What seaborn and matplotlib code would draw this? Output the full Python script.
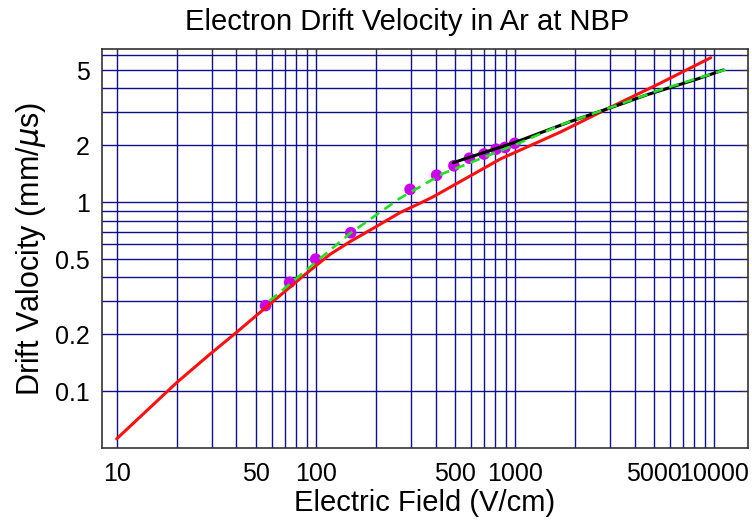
import matplotlib
matplotlib.use('Agg')
import matplotlib.pyplot as plt
import seaborn as sns
from matplotlib.ticker import FixedLocator, NullFormatter

# red curve (calculation)
red_field = [10, 20, 29.4, 40, 55.6, 86.7, 118, 150, 195, 265, 334, 390, 843, 1692, 2950, 5370, 9660]
red_vel = [0.056, 0.111, 0.157, 0.205, 0.275, 0.408, 0.530, 0.622, 0.729, 0.881, 0.988, 1.07, 1.69, 2.35, 3.14, 4.26, 5.82]

# green dashed curve (fit)
green_field = [58.5, 149, 265, 437, 1024, 1692, 2950, 5370, 12300]
green_vel = [0.300, 0.685, 1.05, 1.42, 2.03, 2.56, 3.14, 3.93, 5.15]

# black curve
black_field = [491, 1024, 1897, 3516, 4600, 8220, 11170]
black_vel = [1.62, 2.09, 2.67, 3.34, 3.70, 4.48, 5.01]

# measured points
dot_field = [56, 74, 100, 150, 298, 405, 495, 592, 701, 806, 893, 1000]
dot_vel = [0.284, 0.377, 0.50, 0.69, 1.17, 1.39, 1.56, 1.71, 1.80, 1.91, 1.95, 2.05]

x_major = [10, 50, 100, 500, 1000, 5000, 10000]
x_minor = [20, 30, 40, 60, 70, 80, 90, 200, 300, 400, 600, 700, 800, 900,
           2000, 3000, 4000, 6000, 7000, 8000, 9000]
y_major = [0.1, 0.2, 0.5, 1, 2, 5]
y_minor = [0.3, 0.4, 0.6, 0.7, 0.8, 0.9, 3, 4, 6]

sns.set_style('white')
plt.rcParams['font.family'] = ['Liberation Sans', 'DejaVu Sans']
plt.rcParams['text.color'] = 'black'
plt.rcParams['axes.labelcolor'] = 'black'
plt.rcParams['xtick.color'] = 'black'
plt.rcParams['ytick.color'] = 'black'

fig = plt.figure(figsize=(7.52, 5.21), dpi=100)
ax = fig.add_axes([101.7 / 752, 1 - 448 / 521, (748 - 101.7) / 752, (448 - 49) / 521])

sns.scatterplot(x=dot_field, y=dot_vel, ax=ax, color='#cc00ee', s=70,
                edgecolor='none', zorder=3)
sns.lineplot(x=red_field, y=red_vel, ax=ax, color='#ff1010', linewidth=2.2,
             sort=False, estimator=None, zorder=4)
sns.lineplot(x=black_field, y=black_vel, ax=ax, color='black', linewidth=2.2,
             sort=False, estimator=None, zorder=5)
sns.lineplot(x=green_field, y=green_vel, ax=ax, color='#22e022', linewidth=1.9,
             sort=False, estimator=None, zorder=6)
ax.lines[-1].set_dashes([3.8, 2.4])

ax.set_xscale('log')
ax.set_yscale('log')
ax.set_xlim(8.41, 14860)
ax.set_ylim(0.0501, 6.47)

ax.xaxis.set_major_locator(FixedLocator(x_major))
ax.xaxis.set_minor_locator(FixedLocator(x_minor))
ax.yaxis.set_major_locator(FixedLocator(y_major))
ax.yaxis.set_minor_locator(FixedLocator(y_minor))
ax.set_xticklabels([str(v) for v in x_major])
ax.set_yticklabels(['0.1', '0.2', '0.5', '1', '2', '5'])
ax.xaxis.set_minor_formatter(NullFormatter())
ax.yaxis.set_minor_formatter(NullFormatter())

ax.grid(True, which='both', color='#10108a', linewidth=1.0, zorder=1)
ax.set_axisbelow(True)
ax.tick_params(which='both', direction='in', length=4, color='#333333',
               top=True, right=True)
ax.tick_params(axis='x', labelsize=18, pad=10, labelcolor='black')
ax.tick_params(axis='y', labelsize=18, pad=8.5, labelcolor='black')
for sp in ax.spines.values():
    sp.set_color('#333333')
    sp.set_linewidth(1.2)

ax.set_xlabel('Electric Field (V/cm)', fontsize=21, labelpad=2, color='black')
ax.set_ylabel(r'Drift Valocity (mm/$\mu$s)', fontsize=22, labelpad=5, color='black')
fig.text(407 / 752, 1 - 30 / 521, 'Electron Drift Velocity in Ar at NBP',
         fontsize=21, ha='center', va='baseline', color='black')

fig.savefig('out.png', dpi=100)
